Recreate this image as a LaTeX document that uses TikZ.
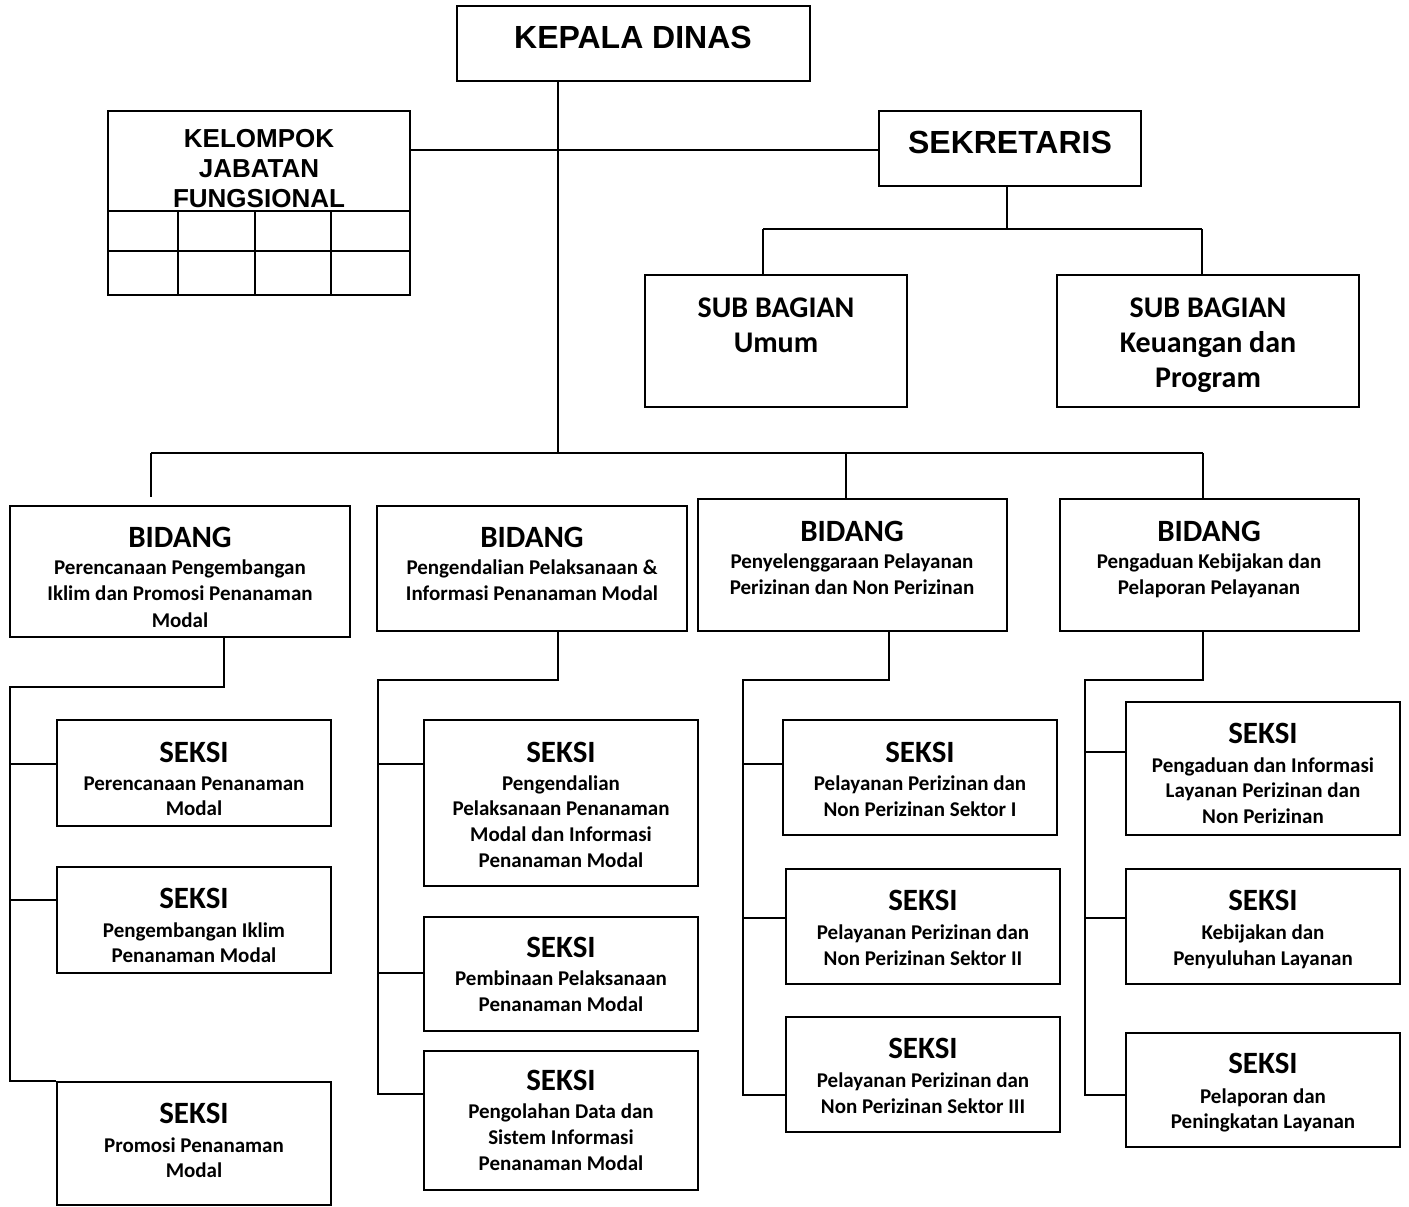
\documentclass[tikz,border=0pt]{standalone}
\usepackage{fontspec}
\setmainfont{Carlito}
\newfontfamily\arialf{Liberation Sans}
\begin{document}
\begin{tikzpicture}[x=1pt,y=-1pt,
  box/.style={draw, line width=2pt, rectangle, inner sep=0pt},
  ln/.style={line width=2pt},
  big/.style={font=\arialf\bfseries\fontsize{32}{38}\selectfont, anchor=base, inner sep=0pt},
  mid/.style={font=\arialf\bfseries\fontsize{26}{30}\selectfont, anchor=base, inner sep=0pt},
  ttl/.style={font=\bfseries\fontsize{31}{36}\selectfont, anchor=base, inner sep=0pt},
  sbt/.style={font=\bfseries\fontsize{30}{36}\selectfont, anchor=base, inner sep=0pt},
  sub/.style={font=\bfseries\fontsize{21}{26}\selectfont, anchor=base, inner sep=0pt}]
\newcommand\bx[5]{\node[box, minimum width={#4-#2}, minimum height={#5-#3}] (#1) at ({(#2+#4)/2},{(#3+#5)/2}) {};}
\newcommand\stack[6]{\foreach \l [count=\i] in {#6} {\node[#5] (#1-\i) at (#2,{#3+(\i-1)*#4}) {\l};}}
\useasboundingbox (0,0) rectangle (1409,1207);
\fill[white] (0,0) rectangle (1409,1207);

% top boxes
\bx{kd}{457}{6}{810}{81}
\node[big] (kdt) at (633,49) {KEPALA DINAS};
\bx{kjf}{108}{111}{410}{295}
\stack{kjft}{259}{147}{30}{mid}{KELOMPOK,JABATAN,FUNGSIONAL}
\draw[ln] (kjf.west |- 0,211) coordinate (g1) -- (kjf.east |- g1);
\draw[ln] (kjf.west |- 0,251) coordinate (g2) -- (kjf.east |- g2);
\foreach \gx in {178,255,331} {\draw[ln] (\gx,211) coordinate (gt) -- (gt |- kjf.south);}
\bx{sek}{879}{111}{1141}{186}
\node[big] (sekt) at (1010,153) {SEKRETARIS};
\bx{sbu}{645}{275}{907}{407}
\stack{sbut}{776}{317}{35}{sbt}{SUB BAGIAN,Umum}
\bx{sbk}{1057}{275}{1359}{407}
\stack{sbkt}{1208}{317}{35}{sbt}{SUB BAGIAN,Keuangan dan,Program}

% bidang boxes
\bx{b1}{10}{506}{350}{637}
\node[ttl] (b1t) at (180,547) {BIDANG};
\stack{b1s}{180}{574}{26.5}{sub}{Perencanaan Pengembangan,Iklim dan Promosi  Penanaman,Modal}
\bx{b2}{377}{506}{687}{631}
\node[ttl] (b2t) at (532,547) {BIDANG};
\stack{b2s}{532}{574}{26.5}{sub}{Pengendalian Pelaksanaan \&,Informasi Penanaman Modal}
\bx{b3}{698}{499}{1007}{631}
\node[ttl] (b3t) at (852,541) {BIDANG};
\stack{b3s}{852}{568}{26.5}{sub}{Penyelenggaraan Pelayanan,Perizinan dan Non Perizinan}
\bx{b4}{1060}{499}{1359}{631}
\node[ttl] (b4t) at (1209,541) {BIDANG};
\stack{b4s}{1209}{568}{26.5}{sub}{Pengaduan Kebijakan dan,Pelaporan Pelayanan}

% seksi column 1
\bx{s11}{57}{720}{331}{826}
\node[ttl] (s11t) at (194,762) {SEKSI};
\stack{s11s}{194}{790}{25.5}{sub}{Perencanaan Penanaman,Modal}
\bx{s12}{57}{867}{331}{973}
\node[ttl] (s12t) at (194,908) {SEKSI};
\stack{s12s}{194}{937}{25.5}{sub}{Pengembangan Iklim,Penanaman Modal}
\bx{s13}{57}{1082}{331}{1205}
\node[ttl] (s13t) at (194,1123) {SEKSI};
\stack{s13s}{194}{1152}{25.5}{sub}{Promosi Penanaman,Modal}

% seksi column 2
\bx{s21}{424}{720}{698}{886}
\node[ttl] (s21t) at (561,762) {SEKSI};
\stack{s21s}{561}{790}{25.7}{sub}{Pengendalian,Pelaksanaan Penanaman,Modal dan Informasi,Penanaman Modal}
\bx{s22}{424}{917}{698}{1031}
\node[ttl] (s22t) at (561,957) {SEKSI};
\stack{s22s}{561}{985}{26.5}{sub}{Pembinaan Pelaksanaan,Penanaman Modal}
\bx{s23}{424}{1051}{698}{1190}
\node[ttl] (s23t) at (561,1090) {SEKSI};
\stack{s23s}{561}{1118}{26}{sub}{Pengolahan Data dan,Sistem Informasi,Penanaman Modal}

% seksi column 3
\bx{s31}{783}{720}{1057}{835}
\node[ttl] (s31t) at (920,762) {SEKSI};
\stack{s31s}{920}{790}{26}{sub}{Pelayanan Perizinan dan,Non Perizinan Sektor I}
\bx{s32}{786}{869}{1060}{984}
\node[ttl] (s32t) at (923,910) {SEKSI};
\stack{s32s}{923}{939}{26}{sub}{Pelayanan Perizinan dan,Non Perizinan Sektor II}
\bx{s33}{786}{1017}{1060}{1132}
\node[ttl] (s33t) at (923,1058) {SEKSI};
\stack{s33s}{923}{1087}{26}{sub}{Pelayanan Perizinan dan,Non Perizinan Sektor III}

% seksi column 4
\bx{s41}{1126}{702}{1400}{835}
\node[ttl] (s41t) at (1263,743) {SEKSI};
\stack{s41s}{1263}{772}{25.5}{sub}{Pengaduan dan Informasi,Layanan Perizinan dan,Non Perizinan}
\bx{s42}{1126}{869}{1400}{984}
\node[ttl] (s42t) at (1263,910) {SEKSI};
\stack{s42s}{1263}{939}{26}{sub}{Kebijakan dan,Penyuluhan Layanan}
\bx{s43}{1126}{1033}{1400}{1147}
\node[ttl] (s43t) at (1263,1073) {SEKSI};
\stack{s43s}{1263}{1103}{25.5}{sub}{Pelaporan dan,Peningkatan Layanan}

% connectors: top
\coordinate (kdo) at (558,81);
\coordinate (busB) at (558,453);
\draw[ln] (kdo) -- (busB);
\draw[ln] (kjf.east |- 0,150) coordinate (kje) -- (sek.west |- kje);
\coordinate (seko) at (1007,186);
\coordinate (busS) at (1007,229);
\draw[ln] (seko) -- (busS);
\draw[ln] (763,229) coordinate (sl) -- (1202,229) coordinate (sr);
\draw[ln] (sl) -- (sl |- sbu.north);
\draw[ln] (sr) -- (sr |- sbk.north);

% bidang bus
\coordinate (bl) at (151,453);
\coordinate (br) at (1203,453);
\draw[ln] (bl) -- (br);
\draw[ln] (bl) -- (151,497) coordinate (b1in);
\draw[ln] (846,453) coordinate (b3c) -- (b3c |- b3.north);
\draw[ln] (br) -- (br |- b4.north);

% bidang 1 -> seksi
\coordinate (b1o) at (224,637);
\draw[ln] (b1o) -- (224,687) -- (10,687) -- (10,1081) -- (s13.north west);
\draw[ln] (10,764) coordinate (t11) -- (s11.west |- t11);
\draw[ln] (10,900) coordinate (t12) -- (s12.west |- t12);

% bidang 2 -> seksi
\coordinate (b2o) at (558,631);
\draw[ln] (b2o) -- (558,680) -- (378,680) -- (378,1094) coordinate (t23) -- (s23.west |- t23);
\draw[ln] (378,764) coordinate (t21) -- (s21.west |- t21);
\draw[ln] (378,973) coordinate (t22) -- (s22.west |- t22);

% bidang 3 -> seksi
\coordinate (b3o) at (889,631);
\draw[ln] (b3o) -- (889,680) -- (743,680) -- (743,1095) coordinate (t33) -- (s33.west |- t33);
\draw[ln] (743,764) coordinate (t31) -- (s31.west |- t31);
\draw[ln] (743,918) coordinate (t32) -- (s32.west |- t32);

% bidang 4 -> seksi
\coordinate (b4o) at (1203,631);
\draw[ln] (b4o) -- (1203,680) -- (1085,680) -- (1085,1095) coordinate (t43) -- (s43.west |- t43);
\draw[ln] (1085,752) coordinate (t41) -- (s41.west |- t41);
\draw[ln] (1085,918) coordinate (t42) -- (s42.west |- t42);
\end{tikzpicture}
\end{document}
